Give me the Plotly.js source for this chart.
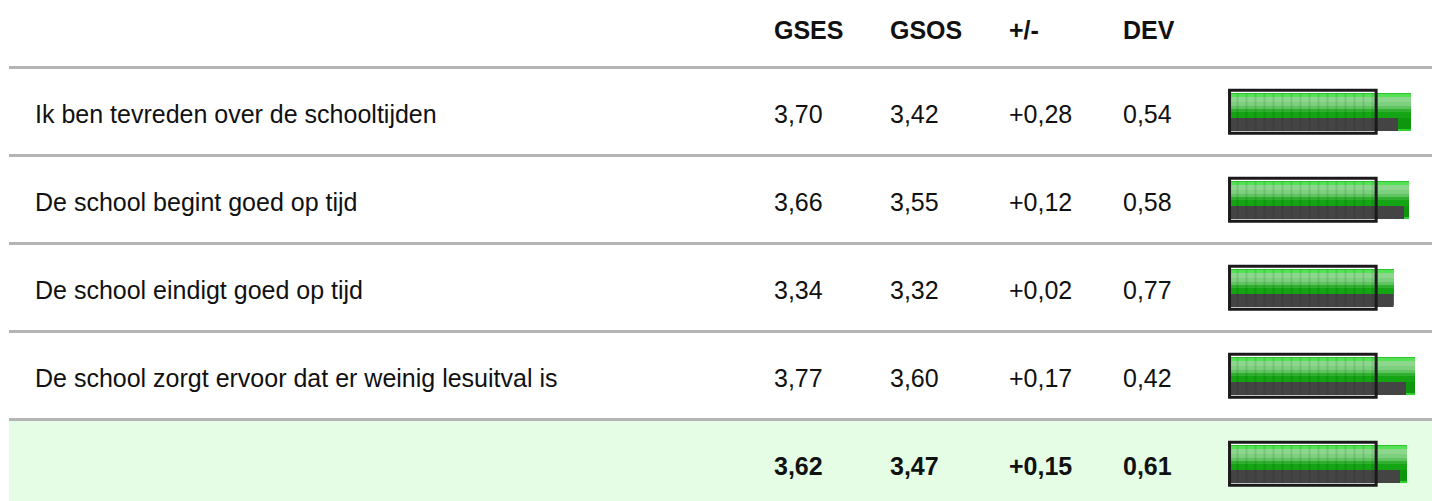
<!DOCTYPE html>
<html>
<head>
<meta charset="utf-8">
<script src="https://cdn.plot.ly/plotly-3.0.1.min.js"></script>
<style>html,body{margin:0;padding:0;background:#fff;}#chart{width:1432px;height:501px;}</style>
</head>
<body>
<div id="chart"></div>
<script>
// ---- data ----
const headers = ['GSES', 'GSOS', '+/-', 'DEV'];
const labels = [
  'Ik ben tevreden over de schooltijden',
  'De school begint goed op tijd',
  'De school eindigt goed op tijd',
  'De school zorgt ervoor dat er weinig lesuitval is',
  ''
];
const gses = [3.70, 3.66, 3.34, 3.77, 3.62];
const gsos = [3.42, 3.55, 3.32, 3.60, 3.47];
const diff = [0.28, 0.12, 0.02, 0.17, 0.15];
const dev  = [0.54, 0.58, 0.77, 0.42, 0.61];
const totalRow = [false, false, false, false, true];
const boxMax = 3;

// ---- layout helpers ----
const W = 1432, H = 501;
const rowPitch = 88;
const u = 1 / rowPitch;            // one pixel in y units
const row0 = 111.5;                // pixel centre of first row
const pxPerUnit = 48.7, x0px = 1231;
const rows = labels.map((_, i) => i);
const fmt = v => v.toFixed(2).replace('.', ',');
const fmtDiff = v => (v >= 0 ? '+' : '') + fmt(v);
const FONT = '"Liberation Sans", Arial, Helvetica, sans-serif';
const FS = 25;
const colX = [771.5, 888, 1006.5, 1120.5];
const labelX = 33;

const traces = [];
function band(xs, off, w, color, name) {
  traces.push({
    type: 'bar', orientation: 'h', y: rows, x: xs, base: 0,
    offset: off * u, width: w * u,
    marker: {color: color, line: {width: 0}},
    hoverinfo: 'skip', showlegend: false, name: name
  });
}
// green bar (GSES), built as horizontal bands
band(gses, -19, 38, '#0f960f', 'gses-base');
band(gses, 17.5, 1.5, '#2fd02f', 'gses-bottomline');
band(gses, -19, 1, '#2cc42c', 'gses-top');
band(gses, -18, 3, '#55e355', 'gses-bright');
band(gses, -15, 5, '#8dd68d', 'gses-light1');
band(gses, -10, 4, '#7dd07d', 'gses-light2');
band(gses, -6, 3, '#5fc45f', 'gses-light3');
band(gses, -3, 3, '#2fb02f', 'gses-mid');
band(gses, 0, 6, '#14a414', 'gses-dark');
// grey bar (GSOS)
band(gsos, 6, 13, '#444444', 'gsos');
// faint vertical stripes inside the reference box
traces.push({
  type: 'bar', orientation: 'h', y: rows, x: rows.map(() => boxMax), base: 0,
  offset: -19 * u, width: 38 * u,
  marker: {color: 'rgba(0,0,0,0)', line: {width: 0},
           pattern: {shape: '|', size: 9, solidity: 0.22, fgcolor: '#000', fgopacity: 0.09}},
  hoverinfo: 'skip', showlegend: false
});

const shapes = [];
const annotations = [];
// total row background
const totalIdx = totalRow.indexOf(true);
shapes.push({type: 'rect', layer: 'below', xref: 'paper', yref: 'y',
  x0: 9 / W, x1: 1, y0: totalIdx - 0.5, y1: totalIdx + 2,
  fillcolor: '#e4fde4', line: {width: 0}});
// separators
rows.forEach(i => {
  shapes.push({type: 'line', layer: 'below', xref: 'paper', yref: 'y',
    x0: 9 / W, x1: 1, y0: i - 0.5, y1: i - 0.5,
    line: {color: '#b4b4b4', width: 3}});
});
// white inside of box + frame
rows.forEach(i => {
  shapes.push({type: 'rect', layer: 'below', xref: 'x', yref: 'y',
    x0: -0.03, x1: 2.98, y0: i - 21.5 * u, y1: i + 21.5 * u,
    fillcolor: '#ffffff', line: {width: 0}});
  shapes.push({type: 'rect', layer: 'above', xref: 'x', yref: 'y',
    x0: -0.03, x1: 2.98, y0: i - 21.3 * u, y1: i + 21.7 * u,
    fillcolor: 'rgba(0,0,0,0)', line: {color: '#1a1a1a', width: 3}});
});

// header
const headerY = (30 - row0) * u;
headers.forEach((h, j) => {
  annotations.push({xref: 'paper', yref: 'y', x: colX[j] / W, y: headerY,
    text: '<b>' + h + '</b>', showarrow: false, xanchor: 'left', yanchor: 'middle',
    yshift: 0, font: {family: FONT, size: FS, color: '#111'}});
});
// body
rows.forEach(i => {
  const b = totalRow[i];
  const wrap = s => b ? '<b>' + s + '</b>' : s;
  const vals = [fmt(gses[i]), fmt(gsos[i]), fmtDiff(diff[i]), fmt(dev[i])];
  if (labels[i]) {
    annotations.push({xref: 'paper', yref: 'y', x: labelX / W, y: i,
      text: wrap(labels[i]), showarrow: false, xanchor: 'left', yanchor: 'middle',
      yshift: -2, font: {family: FONT, size: FS, color: '#111'}});
  }
  vals.forEach((v, j) => {
    annotations.push({xref: 'paper', yref: 'y', x: colX[j] / W, y: i,
      text: wrap(v), showarrow: false, xanchor: 'left', yanchor: 'middle',
      yshift: -2, font: {family: FONT, size: FS, color: '#111'}});
  });
});

const layout = {
  width: W, height: H,
  margin: {l: 0, r: 0, t: 0, b: 0, pad: 0},
  paper_bgcolor: '#ffffff', plot_bgcolor: 'rgba(0,0,0,0)',
  barmode: 'overlay', bargap: 0,
  showlegend: false,
  xaxis: {range: [-x0px / pxPerUnit, (W - x0px) / pxPerUnit], domain: [0, 1],
          visible: false, fixedrange: true},
  yaxis: {range: [(H - row0) * u, -row0 * u], domain: [0, 1],
          visible: false, fixedrange: true},
  shapes: shapes,
  annotations: annotations
};

Plotly.newPlot('chart', traces, layout, {staticPlot: true, displayModeBar: false});
</script>
</body>
</html>
